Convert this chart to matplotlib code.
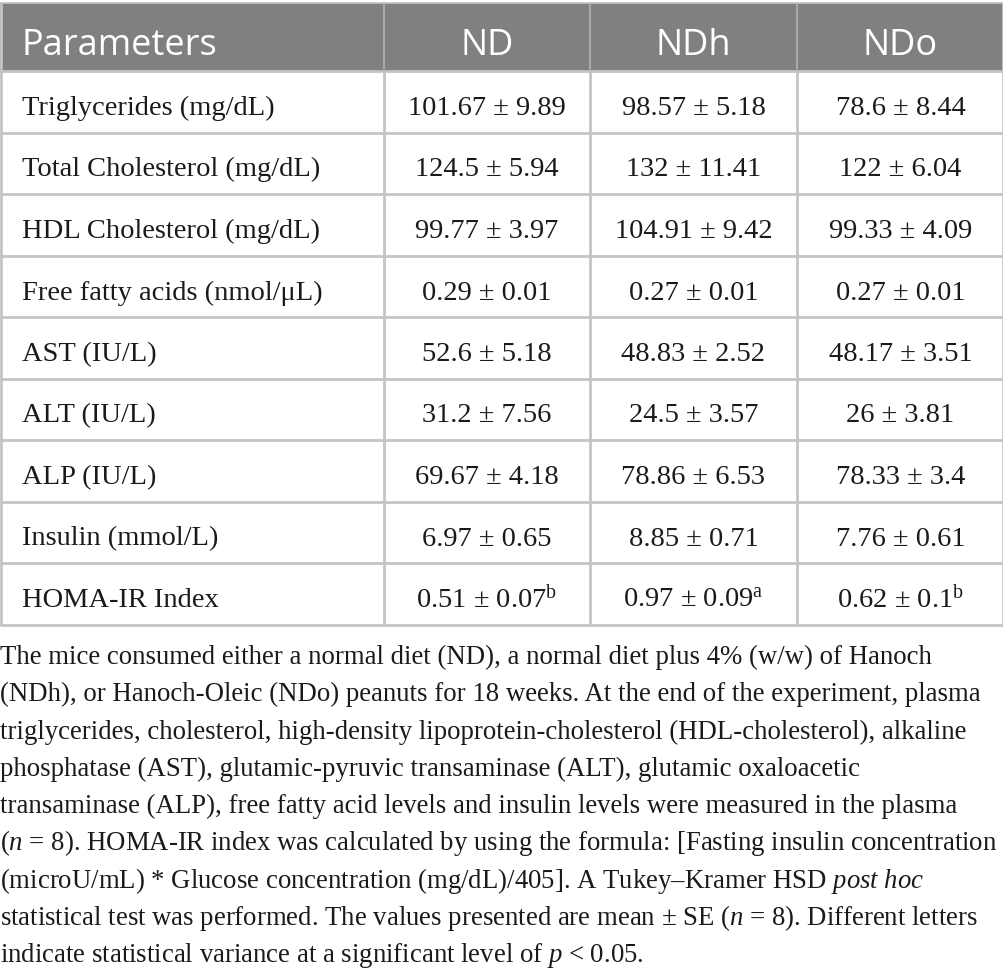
import matplotlib
matplotlib.use('Agg')
import matplotlib.pyplot as plt
from matplotlib.patches import Rectangle

plt.rcParams.update({
    'font.family': 'Liberation Serif',
    'mathtext.fontset': 'custom',
    'mathtext.rm': 'Liberation Serif',
    'mathtext.it': 'Liberation Serif:italic',
})

# ── Table data ──────────────────────────────────────────────────────
columns = ['Parameters', 'ND', 'NDh', 'NDo']
parameters = [
    'Triglycerides (mg/dL)',
    'Total Cholesterol (mg/dL)',
    'HDL Cholesterol (mg/dL)',
    'Free fatty acids (nmol/\u03bcL)',
    'AST (IU/L)',
    'ALT (IU/L)',
    'ALP (IU/L)',
    'Insulin (mmol/L)',
    'HOMA-IR Index',
]
nd_mean = [101.67, 124.5, 99.77, 0.29, 52.6, 31.2, 69.67, 6.97, 0.51]
nd_se = [9.89, 5.94, 3.97, 0.01, 5.18, 7.56, 4.18, 0.65, 0.07]
ndh_mean = [98.57, 132, 104.91, 0.27, 48.83, 24.5, 78.86, 8.85, 0.97]
ndh_se = [5.18, 11.41, 9.42, 0.01, 2.52, 3.57, 6.53, 0.71, 0.09]
ndo_mean = [78.6, 122, 99.33, 0.27, 48.17, 26, 78.33, 7.76, 0.62]
ndo_se = [8.44, 6.04, 4.09, 0.01, 3.51, 3.81, 3.4, 0.61, 0.1]
nd_sig = ['', '', '', '', '', '', '', '', 'b']
ndh_sig = ['', '', '', '', '', '', '', '', 'a']
ndo_sig = ['', '', '', '', '', '', '', '', 'b']

caption = [
    'The mice consumed either a normal diet (ND), a normal diet plus 4% (w/w) of Hanoch',
    '(NDh), or Hanoch-Oleic (NDo) peanuts for 18 weeks. At the end of the experiment, plasma',
    'triglycerides, cholesterol, high-density lipoprotein-cholesterol (HDL-cholesterol), alkaline',
    'phosphatase (AST), glutamic-pyruvic transaminase (ALT), glutamic oxaloacetic',
    'transaminase (ALP), free fatty acid levels and insulin levels were measured in the plasma',
    '($n$ = 8). HOMA-IR index was calculated by using the formula: [Fasting insulin concentration',
    '(microU/mL) * Glucose concentration (mg/dL)/405]. A Tukey\u2013Kramer HSD $post\\ hoc$',
    'statistical test was performed. The values presented are mean \u00b1 SE ($n$ = 8). Different letters',
    'indicate statistical variance at a significant level of $p$ < 0.05.',
]

# ── Layout (pixels) ─────────────────────────────────────────────────
W, H = 1004, 978
col_x = [0, 384, 590, 797, 1004]
head_top, head_bot = 4, 72
row_h = 61.5
GRID = '#c4c4c4'
HEAD_FC = '#808080'
TXT = '#1a1a1a'

fig = plt.figure(figsize=(W / 100, H / 100), dpi=100)
ax = fig.add_axes([0, 0, 1, 1])
ax.set_xlim(0, W)
ax.set_ylim(H, 0)
ax.axis('off')
fig.patch.set_facecolor('white')

# header
ax.add_patch(Rectangle((0, head_top), W, head_bot - head_top,
                       facecolor=HEAD_FC, edgecolor='none', zorder=1))
ax.text(22, 55, columns[0], ha='left', va='baseline', color='white',
        fontsize=26, family='Open Sans', zorder=3)
for j in range(1, 4):
    ax.text((col_x[j] + col_x[j + 1]) / 2, 55, columns[j], ha='center',
            va='baseline', color='white', fontsize=26, family='Open Sans',
            zorder=3)


def fmt(m, s, sig):
    t = f'{m:g} \u00b1 {s:g}'
    if sig:
        t += '$^{\\mathrm{' + sig + '}}$'
    return t


n = len(parameters)
table_bot = head_bot + n * row_h

# grid lines
ax.hlines([head_top], 0, W, color=GRID, lw=1.2, zorder=2)
for i in range(n + 1):
    ax.hlines(head_bot + i * row_h, 0, W, color=GRID, lw=2, zorder=2)
ax.vlines([0.8, W - 0.8], head_top, table_bot, color=GRID, lw=2, zorder=2)
for x in col_x[1:-1]:
    ax.vlines(x, head_top, head_bot, color='#a8a8a8', lw=1.5, zorder=2)
    ax.vlines(x, head_bot, table_bot, color=GRID, lw=2, zorder=2)

series = [(nd_mean, nd_se, nd_sig), (ndh_mean, ndh_se, ndh_sig),
          (ndo_mean, ndo_se, ndo_sig)]
for i, p in enumerate(parameters):
    yb = head_bot + i * row_h + 43
    ax.text(22, yb, p, ha='left', va='baseline', fontsize=20.5, color=TXT,
            zorder=3)
    for j, (m, s, g) in enumerate(series):
        ax.text((col_x[j + 1] + col_x[j + 2]) / 2, yb, fmt(m[i], s[i], g[i]),
                ha='center', va='baseline', fontsize=20.5, color=TXT, zorder=3)

# caption
for k, line in enumerate(caption):
    ax.text(0, 664 + k * 37.3, line, ha='left', va='baseline',
            fontsize=19.3, color=TXT)

fig.savefig('out.png', dpi=100, facecolor='white')
plt.close()
